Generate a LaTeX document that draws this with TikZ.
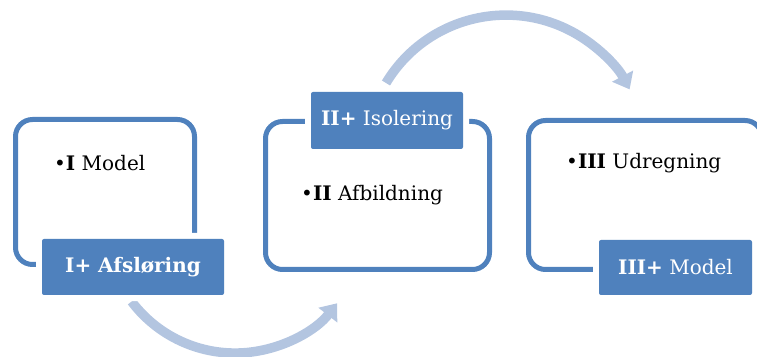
\documentclass[tikz,border=0pt]{standalone}
\usepackage{fontspec}
\setmainfont{DejaVu Serif}
\usetikzlibrary{arrows.meta}
\definecolor{accent}{HTML}{4F81BD}
\definecolor{arrowc}{HTML}{B3C5E0}
\begin{document}
\begin{tikzpicture}[x=1pt,y=1pt,
  outline/.style={draw=accent, line width=5pt, rounded corners=17pt, inner sep=0pt},
  labelbox/.style={fill=accent, rounded corners=2pt, inner sep=0pt, text=white,
     preaction={draw=white, line width=12pt},
     font=\fontsize{20}{24}\selectfont},
  bodytext/.style={anchor=west, inner sep=0pt, text=black, font=\fontsize{20}{24}\selectfont},
  flow/.style={draw=arrowc, line width=9.5pt, -{Triangle[width=23pt,length=15pt]}}]
\useasboundingbox (0,0) rectangle (757,356);
\clip (0,0) rectangle (757,356);
% arrows
\coordinate (a1s) at (131.6,54.5);
\coordinate (a2s) at (386,273);
\draw[flow] (a1s) arc[start angle=217, end angle=322, radius=129.5];
\draw[flow] (a2s) arc[start angle=149, end angle=28, radius=140];
% outline boxes
\node[outline, minimum width=179pt, minimum height=145pt] (b1) at (105,164) {};
\node[outline, minimum width=224pt, minimum height=148pt] (b2) at (377.5,160.5) {};
\node[outline, minimum width=233.5pt, minimum height=149pt] (b3) at (645.25,161) {};
% body texts
\node[bodytext] (t1) at (54,193) {•\textbf{I} Model};
\node[bodytext] (t2) at (301,161) {•\textbf{II} Afbildning};
\node[bodytext] (t3) at (566,193) {•\textbf{III} Udregning};
% labels
\node[labelbox, minimum width=182pt, minimum height=56pt] (l1) at (133,89) {\textbf{I+ Afsløring}};
\node[labelbox, minimum width=152pt, minimum height=57pt] (l2) at (387,235.5) {\textbf{II+} Isolering};
\node[labelbox, minimum width=153pt, minimum height=55pt] (l3) at (675.5,88.5) {\textbf{III+} Model};
\end{tikzpicture}
\end{document}
